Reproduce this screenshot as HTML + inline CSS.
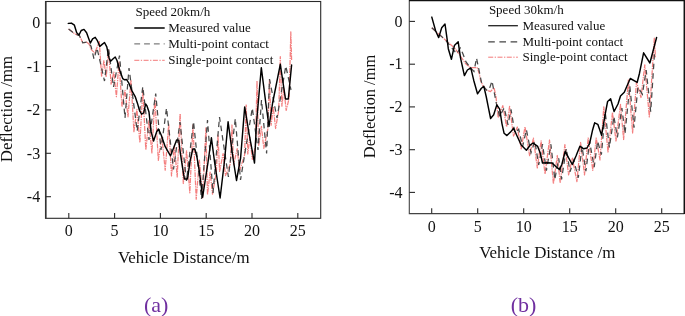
<!DOCTYPE html>
<html><head><meta charset="utf-8"><title>Deflection</title>
<style>
html,body{margin:0;padding:0;background:#fff;}
body{width:685px;height:316px;overflow:hidden;}
svg{display:block;font-family:"Liberation Serif","Times New Roman",serif;}
.tk{font-size:16px;fill:#111;}
.lg{font-size:13px;fill:#111;}
.ax{font-size:16.9px;fill:#111;}
.cap{font-size:22px;fill:#7030a0;}
.fr{fill:none;stroke:#2a2a2a;stroke-width:1.1;}
.t line{stroke:#2a2a2a;stroke-width:1.1;}
.bk{fill:none;stroke:#000;stroke-width:1.45;stroke-linejoin:round;stroke-linecap:round;}
.gy{fill:none;stroke:#484848;stroke-width:1.25;stroke-dasharray:5.5 4;}
.rd{fill:none;stroke:#f48080;stroke-width:1.25;stroke-dasharray:5 0.9 1.3 0.9;stroke-linejoin:round;}
</style></head><body>
<svg width="685" height="316" viewBox="0 0 685 316">
<rect width="685" height="316" fill="#fff"/>
<!-- left plot -->
<rect class="fr" x="45.5" y="1.5" width="275.2" height="216.8"/><line x1="45.8" y1="1.5" x2="45.8" y2="218.3" stroke="#333" stroke-width="1.6"/>
<g class="t"><line x1="45.5" y1="23.1" x2="51" y2="23.1"/><line x1="45.5" y1="66.5" x2="51" y2="66.5"/><line x1="45.5" y1="109.9" x2="51" y2="109.9"/><line x1="45.5" y1="153.3" x2="51" y2="153.3"/><line x1="45.5" y1="196.7" x2="51" y2="196.7"/><line x1="68.8" y1="218.3" x2="68.8" y2="213"/><line x1="114.6" y1="218.3" x2="114.6" y2="213"/><line x1="160.4" y1="218.3" x2="160.4" y2="213"/><line x1="206.2" y1="218.3" x2="206.2" y2="213"/><line x1="252.0" y1="218.3" x2="252.0" y2="213"/><line x1="297.8" y1="218.3" x2="297.8" y2="213"/></g>
<g class="tk"><text x="40.2" y="28.3" text-anchor="end">0</text><text x="40.2" y="71.7" text-anchor="end">-1</text><text x="40.2" y="115.1" text-anchor="end">-2</text><text x="40.2" y="158.5" text-anchor="end">-3</text><text x="40.2" y="201.9" text-anchor="end">-4</text><text x="68.8" y="236.2" text-anchor="middle">0</text><text x="114.6" y="236.2" text-anchor="middle">5</text><text x="160.4" y="236.2" text-anchor="middle">10</text><text x="206.2" y="236.2" text-anchor="middle">15</text><text x="252.0" y="236.2" text-anchor="middle">20</text><text x="297.8" y="236.2" text-anchor="middle">25</text></g>
<path class="rd" d="M68.6,29.1 L75.4,34.2 L79.4,35.4 L82.8,42.8 L86.8,42.2 L89.0,43.9 L91.3,49.6 L94.8,53.0 L99.3,41.6 L101.6,76.6 L103.9,60.7 L106.2,77.2 L108.5,50.0 L111.1,84.1 L113.8,72.1 L116.4,96.7 L119.0,62.0 L122.0,107.0 L125.0,90.3 L128.0,116.8 L131.0,80.0 L133.9,131.6 L136.9,109.3 L139.9,142.8 L142.8,89.7 L145.8,150.0 L148.9,120.7 L151.9,152.9 L154.9,98.0 L158.3,160.3 L161.8,136.1 L165.2,170.2 L168.7,124.0 L171.5,175.9 L174.4,145.7 L177.2,177.0 L180.1,113.7 L183.3,183.5 L186.6,150.9 L189.8,192.8 L193.0,125.0 L196.2,199.2 L199.4,160.1 L202.7,197.8 L205.9,128.0 L207.5,194.7 L210.1,172.1 L212.5,194.1 L216.4,172.0 L218.0,135.0 L219.6,171.4 L223.1,153.6 L225.5,175.6 L230.4,163.7 L232.0,125.0 L233.6,164.8 L237.2,148.7 L239.6,170.7 L244.6,155.0 L246.2,105.0 L247.8,154.0 L249.9,137.3 L252.3,159.3 L255.4,146.2 L257.0,81.0 L258.6,146.0 L261.4,126.3 L263.8,148.3 L267.9,128.8 L269.5,79.5 L271.1,125.3 L273.2,106.5 L275.6,128.5 L278.7,110.6 L280.3,56.7 L281.9,106.2 L283.8,88.4 L286.2,110.4 L289.2,98.0 L290.8,31.8 L291.6,60.0"/>
<path class="gy" d="M68.6,29.1 L75.4,34.2 L79.4,35.6 L82.8,42.8 L86.8,42.2 L89.0,43.9 L91.0,46.0 L94.0,59.0 L97.0,48.0 L104.5,81.0 L108.5,48.0 L113.5,87.0 L119.5,55.5 L125.0,118.0 L129.0,68.0 L137.2,131.0 L142.8,86.7 L149.0,140.0 L155.7,93.5 L161.0,150.0 L166.5,108.0 L173.5,169.5 L180.0,122.0 L186.5,181.0 L193.5,121.5 L201.5,199.0 L207.5,120.0 L213.0,193.0 L219.5,117.0 L228.4,177.0 L235.3,118.5 L240.5,180.0 L252.3,108.0 L258.0,150.0 L261.5,100.0 L266.6,153.5 L269.5,79.0 L277.0,118.0 L285.8,66.0 L291.0,90.0"/>
<path class="bk" d="M68.3,23.4 L71.4,23.1 L74.4,25.2 L76.7,32.8 L79.0,35.0 L81.2,30.5 L84.0,29.4 L86.6,32.8 L90.3,43.1 L92.6,38.8 L95.2,37.3 L97.2,40.3 L99.8,46.4 L102.5,44.1 L104.5,42.5 L106.8,46.8 L109.1,58.2 L110.6,61.2 L112.9,59.0 L115.2,57.0 L117.0,60.5 L119.7,70.3 L122.8,78.7 L124.6,79.8 L126.6,79.5 L129.1,83.7 L132.1,91.2 L135.2,96.6 L137.5,103.4 L139.5,110.5 L141.6,114.2 L143.7,112.9 L145.6,104.0 L147.0,106.0 L149.0,112.1 L151.2,131.9 L153.6,141.0 L156.6,131.9 L158.5,129.0 L161.2,135.0 L165.2,146.7 L170.5,155.8 L173.5,148.2 L176.6,139.9 L178.8,140.3 L180.3,152.8 L182.6,167.9 L184.4,179.0 L187.5,179.0 L190.2,160.3 L192.8,149.0 L194.8,149.0 L197.0,157.3 L199.3,171.0 L202.6,197.2 L207.9,163.0 L211.4,137.8 L214.7,163.0 L220.1,198.0 L224.6,160.0 L228.1,121.8 L233.0,158.0 L236.5,180.5 L240.6,158.0 L244.7,106.9 L249.3,135.0 L254.5,163.0 L256.5,123.0 L261.3,67.7 L265.8,103.0 L269.0,126.4 L272.6,103.0 L280.3,64.3 L285.5,99.0 L288.3,99.0 L291.6,65.0"/>
<g class="lg">
<text x="135.5" y="15.9">Speed 20km/h</text>
<line x1="134.3" y1="28" x2="164.7" y2="28" stroke="#000" stroke-width="1.5"/>
<text x="168.2" y="31.7">Measured value</text>
<line x1="134.3" y1="43.9" x2="164.7" y2="43.9" stroke="#555" stroke-width="0.95" stroke-dasharray="5.8 4"/>
<text x="168.2" y="47.6">Multi-point contact</text>
<line x1="134.3" y1="60.3" x2="164.7" y2="60.3" stroke="#f26a6a" stroke-width="0.9" stroke-dasharray="5 1.5 1.3 1.5"/>
<text x="168.2" y="63.9">Single-point contact</text>
</g>
<text class="ax" transform="translate(11.5,109) rotate(-90)" text-anchor="middle">Deflection /mm</text>
<text class="ax" x="183.8" y="262.5" text-anchor="middle">Vehicle Distance/m</text>
<text class="cap" x="156.1" y="312.2" text-anchor="middle">(a)</text>
<!-- right plot -->
<path class="fr" style="stroke:#444" d="M409.3,0 V213.6 H684.4"/><line x1="684.3" y1="0" x2="684.3" y2="214.1" stroke="#111" stroke-width="1.5"/>
<line x1="409" y1="0.6" x2="685" y2="0.6" stroke="#111" stroke-width="1.4"/>
<g class="t"><line x1="409.3" y1="21.4" x2="415" y2="21.4"/><line x1="409.3" y1="64.2" x2="415" y2="64.2"/><line x1="409.3" y1="106.9" x2="415" y2="106.9"/><line x1="409.3" y1="149.7" x2="415" y2="149.7"/><line x1="409.3" y1="192.4" x2="415" y2="192.4"/><line x1="431.7" y1="213.6" x2="431.7" y2="208.3"/><line x1="477.7" y1="213.6" x2="477.7" y2="208.3"/><line x1="523.7" y1="213.6" x2="523.7" y2="208.3"/><line x1="569.7" y1="213.6" x2="569.7" y2="208.3"/><line x1="615.7" y1="213.6" x2="615.7" y2="208.3"/><line x1="661.7" y1="213.6" x2="661.7" y2="208.3"/></g>
<g class="tk"><text x="402.5" y="26.6" text-anchor="end">0</text><text x="402.5" y="69.4" text-anchor="end">-1</text><text x="402.5" y="112.1" text-anchor="end">-2</text><text x="402.5" y="154.8" text-anchor="end">-3</text><text x="402.5" y="197.6" text-anchor="end">-4</text><text x="431.7" y="231.8" text-anchor="middle">0</text><text x="477.7" y="231.8" text-anchor="middle">5</text><text x="523.7" y="231.8" text-anchor="middle">10</text><text x="569.7" y="231.8" text-anchor="middle">15</text><text x="615.7" y="231.8" text-anchor="middle">20</text><text x="661.7" y="231.8" text-anchor="middle">25</text></g>
<path class="rd" d="M431.8,27.8 L455.2,48.7 L465.8,63.8 L470.3,67.6 L477.2,67.6 L479.5,74.5 L480.5,80.2 L483.0,86.0 L486.6,90.0 L490.4,91.6 L494.1,87.8 L496.0,97.0 L498.2,117.8 L502.8,105.6 L506.6,126.9 L509.6,106.4 L513.5,136.0 L517.3,127.0 L521.2,148.8 L525.0,126.8 L529.6,155.7 L533.4,138.2 L537.3,168.0 L541.1,140.8 L545.0,174.1 L549.5,140.0 L553.4,184.0 L557.3,155.5 L560.2,183.2 L564.9,144.7 L568.6,174.9 L572.4,158.2 L576.9,181.7 L580.6,142.5 L584.5,174.9 L588.2,138.0 L592.8,170.3 L596.2,138.0 L600.0,160.0 L603.8,106.8 L608.0,152.0 L612.5,112.5 L616.0,141.0 L620.5,104.3 L623.6,139.5 L628.4,80.0 L632.6,133.0 L636.5,82.0 L641.0,97.5 L644.8,64.9 L649.3,116.9 L654.3,38.2 L655.5,58.0"/>
<path class="gy" d="M431.8,27.8 L446.0,40.5 L456.7,54.0 L460.3,48.0 L463.0,54.0 L466.0,62.0 L470.3,67.6 L474.0,71.5 L476.5,58.0 L480.2,76.0 L482.0,85.0 L486.6,90.0 L489.0,90.0 L492.0,81.0 L496.4,103.7 L499.6,116.6 L504.2,107.7 L508.0,124.8 L511.0,109.4 L514.9,133.0 L518.7,129.2 L522.6,146.6 L526.4,129.7 L531.0,152.8 L534.8,141.2 L538.7,165.0 L542.5,144.1 L546.4,170.7 L550.9,144.4 L554.8,179.6 L558.7,158.3 L561.6,179.3 L566.3,148.5 L570.0,171.9 L573.8,160.5 L578.3,177.8 L582.0,146.4 L585.9,171.2 L589.6,141.7 L594.2,167.1 L597.6,141.2 L601.4,154.7 L605.2,112.1 L609.4,147.5 L613.9,116.5 L617.4,137.3 L621.9,108.0 L625.0,133.6 L629.8,86.0 L634.0,127.7 L637.9,87.1 L642.4,94.2 L646.2,70.1 L650.7,111.7 L654.6,52.0"/>
<path class="bk" d="M431.8,17.1 L435.6,30.8 L438.7,37.6 L441.7,27.8 L445.0,24.0 L447.0,38.4 L448.3,48.7 L451.4,59.3 L454.4,45.6 L458.2,41.8 L460.5,57.8 L464.4,75.6 L467.4,70.0 L470.8,67.8 L473.7,80.2 L477.5,93.8 L481.2,88.5 L483.8,86.2 L486.3,97.0 L488.3,107.1 L490.6,118.5 L493.7,114.7 L496.8,104.9 L499.7,109.2 L502.0,123.8 L504.1,133.3 L506.9,135.6 L510.5,132.1 L513.6,128.3 L516.6,135.0 L521.2,145.0 L526.4,150.3 L530.1,145.2 L533.1,143.0 L537.7,146.4 L540.4,153.6 L542.5,163.0 L547.3,162.8 L552.0,163.0 L556.4,167.0 L559.6,169.6 L561.9,164.2 L565.2,151.3 L568.5,157.7 L572.3,164.5 L576.0,156.0 L579.9,146.2 L583.6,148.8 L587.0,148.0 L589.6,143.5 L592.5,130.3 L594.7,122.8 L597.8,124.3 L601.6,135.2 L605.3,113.7 L607.6,101.5 L610.6,98.8 L614.1,111.5 L618.0,104.0 L620.5,96.0 L624.3,92.2 L627.3,85.3 L630.3,78.5 L637.2,82.3 L639.5,73.2 L643.6,52.8 L649.9,63.0 L656.6,37.5"/>
<g class="lg">
<text x="488.9" y="14">Speed 30km/h</text>
<line x1="488.2" y1="25.7" x2="517.9" y2="25.7" stroke="#222" stroke-width="1.3"/>
<text x="522.5" y="29.8">Measured value</text>
<line x1="488.2" y1="41.9" x2="517.9" y2="41.9" stroke="#444" stroke-width="1.4" stroke-dasharray="6.6 4.6"/>
<text x="522.5" y="45.7">Multi-point contact</text>
<line x1="488.2" y1="57.2" x2="517.9" y2="57.2" stroke="#f26a6a" stroke-width="0.9" stroke-dasharray="5 1.5 1.3 1.5"/>
<text x="522.5" y="60.8">Single-point contact</text>
</g>
<text class="ax" transform="translate(374.8,106.5) rotate(-90)" text-anchor="middle" style="font-size:16.4px">Deflection /mm</text>
<text class="ax" x="547.3" y="258.1" text-anchor="middle">Vehicle Distance /m</text>
<text class="cap" x="523.5" y="312.2" text-anchor="middle">(b)</text>
</svg>
</body></html>
